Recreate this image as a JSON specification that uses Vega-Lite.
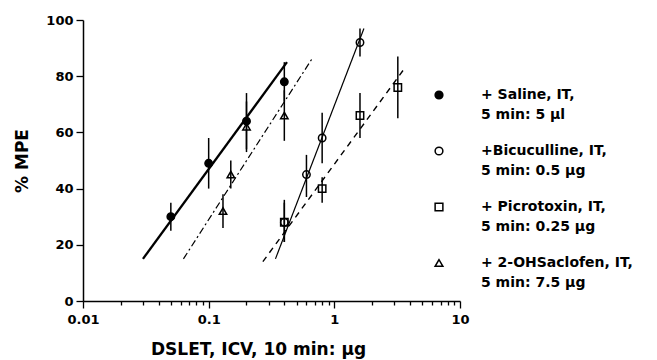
{
  "$schema": "https://vega.github.io/schema/vega-lite/v6.json",
  "width": 377,
  "height": 281,
  "autosize": {"type": "none"},
  "padding": {"left": 83, "top": 20, "right": 197, "bottom": 59},
  "background": "white",
  "config": {
    "view": {"stroke": null},
    "style": {"guide-label": {"lineHeight": 20}},
    "axis": {
      "labelFont": "DejaVu Sans", "labelFontWeight": "bold", "labelFontSize": 13, "labelColor": "black",
      "titleFont": "DejaVu Sans", "titleFontWeight": "bold", "titleFontSize": 17, "titleColor": "black",
      "domainColor": "black", "domainWidth": 1.5, "tickColor": "black", "tickWidth": 1.3, "grid": false
    },
    "legend": {
      "labelFont": "DejaVu Sans", "labelFontWeight": "bold", "labelFontSize": 14, "labelColor": "black"
    }
  },
  "datasets": {
    "pts": [
      {"series": "+ Saline, IT,|5 min: 5 µl", "dose": 0.05, "mpe": 30, "lo": 25, "hi": 35},
      {"series": "+ Saline, IT,|5 min: 5 µl", "dose": 0.1, "mpe": 49, "lo": 40, "hi": 58},
      {"series": "+ Saline, IT,|5 min: 5 µl", "dose": 0.2, "mpe": 64, "lo": 54, "hi": 74},
      {"series": "+ Saline, IT,|5 min: 5 µl", "dose": 0.4, "mpe": 78, "lo": 71, "hi": 85},
      {"series": "+Bicuculline,  IT,|5 min: 0.5 µg", "dose": 0.4, "mpe": 28, "lo": 21, "hi": 35},
      {"series": "+Bicuculline,  IT,|5 min: 0.5 µg", "dose": 0.6, "mpe": 45, "lo": 37, "hi": 52},
      {"series": "+Bicuculline,  IT,|5 min: 0.5 µg", "dose": 0.8, "mpe": 58, "lo": 49, "hi": 67},
      {"series": "+Bicuculline,  IT,|5 min: 0.5 µg", "dose": 1.6, "mpe": 92, "lo": 87, "hi": 97},
      {"series": "+ Picrotoxin, IT,|5 min: 0.25 µg", "dose": 0.4, "mpe": 28, "lo": 21, "hi": 36},
      {"series": "+ Picrotoxin, IT,|5 min: 0.25 µg", "dose": 0.8, "mpe": 40, "lo": 35, "hi": 44},
      {"series": "+ Picrotoxin, IT,|5 min: 0.25 µg", "dose": 1.6, "mpe": 66, "lo": 58, "hi": 74},
      {"series": "+ Picrotoxin, IT,|5 min: 0.25 µg", "dose": 3.2, "mpe": 76, "lo": 65, "hi": 87},
      {"series": "+ 2-OHSaclofen, IT,|5 min: 7.5 µg", "dose": 0.13, "mpe": 32, "lo": 26, "hi": 38},
      {"series": "+ 2-OHSaclofen, IT,|5 min: 7.5 µg", "dose": 0.15, "mpe": 45, "lo": 40, "hi": 50},
      {"series": "+ 2-OHSaclofen, IT,|5 min: 7.5 µg", "dose": 0.2, "mpe": 62, "lo": 53, "hi": 71},
      {"series": "+ 2-OHSaclofen, IT,|5 min: 7.5 µg", "dose": 0.4, "mpe": 66, "lo": 57, "hi": 75}
    ],
    "fits": [
      {"fit": "saline", "dose": 0.03, "mpe": 15},
      {"fit": "saline", "dose": 0.42, "mpe": 85},
      {"fit": "bicuculline", "dose": 0.34, "mpe": 15},
      {"fit": "bicuculline", "dose": 1.72, "mpe": 97},
      {"fit": "picrotoxin", "dose": 0.27, "mpe": 14},
      {"fit": "picrotoxin", "dose": 3.65, "mpe": 83},
      {"fit": "saclofen", "dose": 0.063, "mpe": 15},
      {"fit": "saclofen", "dose": 0.66, "mpe": 86}
    ]
  },
  "layer": [
    {
      "data": {"name": "fits"},
      "transform": [{"filter": "datum.fit == 'saline'"}],
      "mark": {"type": "line", "color": "black", "strokeWidth": 2.3},
      "encoding": {
        "x": {"field": "dose", "type": "quantitative"},
        "y": {"field": "mpe", "type": "quantitative"}
      }
    },
    {
      "data": {"name": "fits"},
      "transform": [{"filter": "datum.fit == 'bicuculline'"}],
      "mark": {"type": "line", "color": "black", "strokeWidth": 1.2},
      "encoding": {
        "x": {"field": "dose", "type": "quantitative"},
        "y": {"field": "mpe", "type": "quantitative"}
      }
    },
    {
      "data": {"name": "fits"},
      "transform": [{"filter": "datum.fit == 'picrotoxin'"}],
      "mark": {"type": "line", "color": "black", "strokeWidth": 1.4, "strokeDash": [6, 5]},
      "encoding": {
        "x": {"field": "dose", "type": "quantitative"},
        "y": {"field": "mpe", "type": "quantitative"}
      }
    },
    {
      "data": {"name": "fits"},
      "transform": [{"filter": "datum.fit == 'saclofen'"}],
      "mark": {"type": "line", "color": "black", "strokeWidth": 1.2, "strokeDash": [7, 3, 2, 3]},
      "encoding": {
        "x": {"field": "dose", "type": "quantitative"},
        "y": {"field": "mpe", "type": "quantitative"}
      }
    },
    {
      "data": {"name": "pts"},
      "mark": {"type": "rule", "color": "black", "strokeWidth": 1.5},
      "encoding": {
        "x": {"field": "dose", "type": "quantitative"},
        "y": {"field": "lo", "type": "quantitative"},
        "y2": {"field": "hi"}
      }
    },
    {
      "data": {"name": "pts"},
      "mark": {"type": "point", "filled": true, "strokeWidth": 1.5, "opacity": 1},
      "encoding": {
        "x": {
          "field": "dose", "type": "quantitative",
          "scale": {"type": "log", "domain": [0.01, 10], "nice": false},
          "axis": {
            "title": "DSLET, ICV, 10 min: µg",
            "values": [0.01, 0.02, 0.03, 0.04, 0.05, 0.06, 0.07, 0.08, 0.09, 0.1, 0.2, 0.3, 0.4, 0.5, 0.6, 0.7, 0.8, 0.9, 1, 2, 3, 4, 5, 6, 7, 8, 9, 10],
            "format": ".2~f",
            "labelExpr": "(datum.value == 0.01 || datum.value == 0.1 || datum.value == 1 || datum.value == 10) ? datum.label : ''",
            "tickSize": {"condition": {"test": "datum.value == 0.01 || datum.value == 0.1 || datum.value == 1 || datum.value == 10", "value": 7}, "value": 4},
            "labelPadding": 5,
            "labelFlush": false,
            "labelOverlap": false,
            "titleX": 175,
            "titlePadding": 15
          }
        },
        "y": {
          "field": "mpe", "type": "quantitative",
          "scale": {"domain": [0, 100], "nice": false},
          "axis": {
            "title": "% MPE",
            "values": [0, 10, 20, 30, 40, 50, 60, 70, 80, 90, 100],
            "labelExpr": "datum.value % 20 == 0 ? datum.label : ''",
            "tickSize": {"condition": {"test": "datum.value % 20 == 0", "value": 7}, "value": 4},
            "labelPadding": 3,
            "titlePadding": 14
          }
        },
        "shape": {
          "field": "series", "type": "nominal",
          "scale": {
            "domain": ["+ Saline, IT,|5 min: 5 µl", "+Bicuculline,  IT,|5 min: 0.5 µg", "+ Picrotoxin, IT,|5 min: 0.25 µg", "+ 2-OHSaclofen, IT,|5 min: 7.5 µg"],
            "range": ["circle", "circle", "square", "triangle-up"]
          },
          "legend": {
            "title": null, "orient": "none", "legendX": 349, "legendY": 68, "padding": 0,
            "labelExpr": "split(datum.label, '|')", "labelOffset": 35, "labelLimit": 300,
            "rowPadding": 22, "symbolSize": 60, "symbolStrokeWidth": 1.5
          }
        },
        "fill": {
          "field": "series", "type": "nominal",
          "scale": {
            "domain": ["+ Saline, IT,|5 min: 5 µl", "+Bicuculline,  IT,|5 min: 0.5 µg", "+ Picrotoxin, IT,|5 min: 0.25 µg", "+ 2-OHSaclofen, IT,|5 min: 7.5 µg"],
            "range": ["black", "transparent", "transparent", "transparent"]
          },
          "legend": {
            "title": null, "orient": "none", "legendX": 349, "legendY": 68, "padding": 0,
            "labelExpr": "split(datum.label, '|')", "labelOffset": 35, "labelLimit": 300,
            "rowPadding": 22, "symbolSize": 60, "symbolStrokeWidth": 1.5
          }
        },
        "stroke": {
          "field": "series", "type": "nominal",
          "scale": {
            "domain": ["+ Saline, IT,|5 min: 5 µl", "+Bicuculline,  IT,|5 min: 0.5 µg", "+ Picrotoxin, IT,|5 min: 0.25 µg", "+ 2-OHSaclofen, IT,|5 min: 7.5 µg"],
            "range": ["black", "black", "black", "black"]
          },
          "legend": {
            "title": null, "orient": "none", "legendX": 349, "legendY": 68, "padding": 0,
            "labelExpr": "split(datum.label, '|')", "labelOffset": 35, "labelLimit": 300,
            "rowPadding": 22, "symbolSize": 60, "symbolStrokeWidth": 1.5
          }
        },
        "size": {"value": 55}
      }
    }
  ]
}
